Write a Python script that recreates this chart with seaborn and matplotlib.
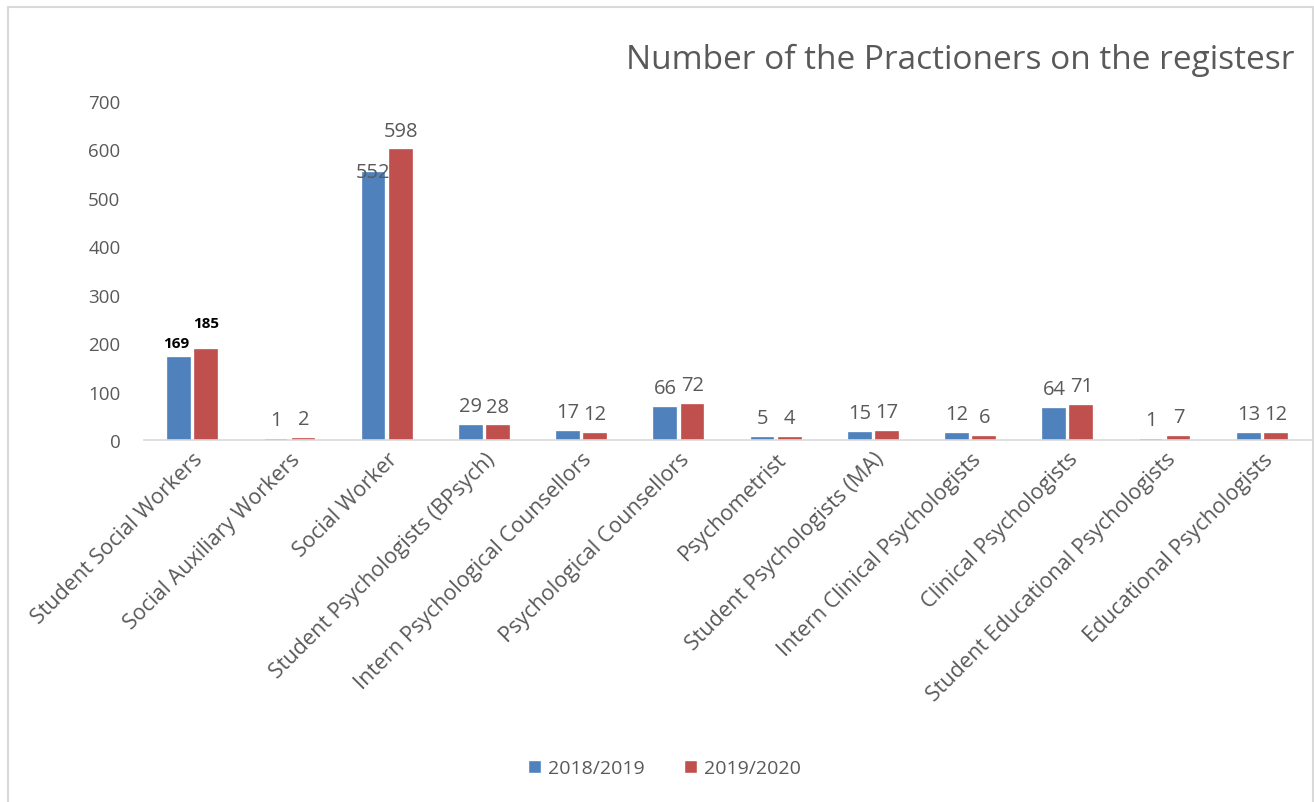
import matplotlib
matplotlib.use("Agg")
import matplotlib.pyplot as plt
import pandas as pd
import seaborn as sns
from matplotlib.patches import Rectangle

categories = [
    "Student Social Workers", "Social Auxiliary Workers", "Social Worker",
    "Student Psychologists (BPsych)", "Intern Psychological Counsellors",
    "Psychological Counsellors", "Psychometrist", "Student Psychologists (MA)",
    "Intern Clinical Psychologists", "Clinical Psychologists",
    "Student Educational Psychologists", "Educational Psychologists",
]
years = ["2018/2019", "2019/2020"]
values_2018 = [169, 1, 552, 29, 17, 66, 5, 15, 12, 64, 1, 13]
values_2019 = [185, 2, 598, 28, 12, 72, 4, 17, 6, 71, 7, 12]
yticks = [0, 100, 200, 300, 400, 500, 600, 700]
colors = ["#4F81BD", "#C0504D"]

df = pd.DataFrame({
    "category": categories * 2,
    "year": [years[0]] * len(categories) + [years[1]] * len(categories),
    "count": values_2018 + values_2019,
})

sns.set_theme(style="white")
plt.rcParams["font.family"] = ["Open Sans", "DejaVu Sans"]

fig = plt.figure(figsize=(13.14, 8.03), dpi=100)
ax = fig.add_axes([0.1096, 0.4508, 0.888, 0.4222])
sns.barplot(data=df, x="category", y="count", hue="year", order=categories,
            palette=colors, width=0.56, gap=0.2, saturation=1, ax=ax, legend=True)

# thin outline in the bar colour so tiny values still show
for container, c in zip(ax.containers, colors):
    for bar in container:
        bar.set_edgecolor(c)
        bar.set_linewidth(1.2)

ax.set_ylim(0, 700)
ax.set_xlim(-0.5, len(categories) - 0.5)
ax.set_yticks(yticks)
ax.set_yticklabels([str(t) for t in yticks], fontsize=13.5, color="#595959")
ax.set_xticks(range(len(categories)))
ax.set_xticklabels(categories, rotation=45, ha="right", rotation_mode="anchor",
                   fontsize=15.5, color="#595959")
ax.tick_params(axis="both", length=0, pad=6)
ax.tick_params(axis="y", pad=17)
ax.set_xlabel("")
ax.set_ylabel("")
for side in ["top", "right", "left"]:
    ax.spines[side].set_visible(False)
ax.spines["bottom"].set_color("#D9D9D9")
ax.spines["bottom"].set_linewidth(1.2)

# data labels, gray; first group bold black, 552 sits low
for ci, container in enumerate(ax.containers):
    for i, bar in enumerate(container):
        val = int(bar.get_height())
        x = bar.get_x() + bar.get_width() / 2
        if i == 0:
            off = (-2, 6) if ci == 0 else (0, 15)
            ax.annotate(str(val), (x, val), xytext=off, textcoords="offset points",
                        ha="center", va="bottom", fontsize=11, fontweight="bold",
                        color="black")
            continue
        dy = -7 if (ci == 0 and i == 2) else 7
        ax.annotate(str(val), (x, val), xytext=(0, dy), textcoords="offset points",
                    ha="center", va="bottom", fontsize=14.5, color="#595959")

ax.legend(loc="upper center", bbox_to_anchor=(0.446, -0.89), ncol=2, frameon=False,
          fontsize=14, handlelength=0.7, handleheight=0.7, handletextpad=0.35,
          columnspacing=2.0, labelcolor="#595959")

fig.text(0.985, 0.925, "Number of the Practioners on the registesr", ha="right",
         va="center", fontsize=24, color="#595959")

fig.patches.append(Rectangle((0.006, -0.01), 0.993, 1.0, transform=fig.transFigure,
                             fill=False, edgecolor="#D9D9D9", linewidth=1.5))

fig.savefig("out.png", dpi=100)
